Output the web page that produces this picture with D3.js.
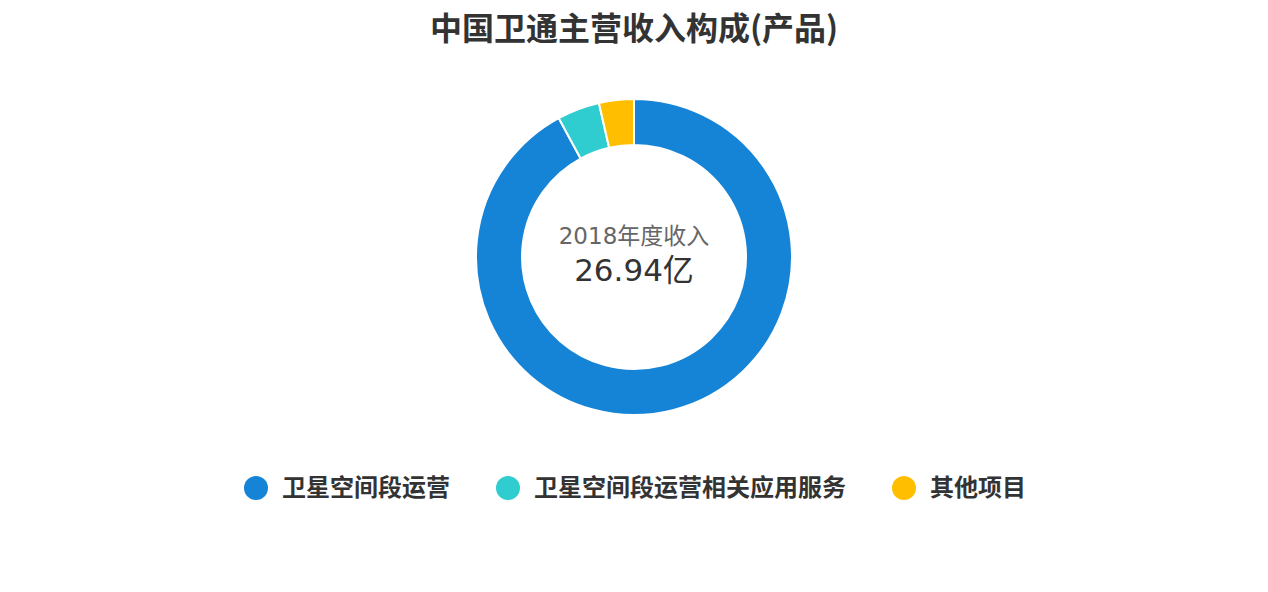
<!DOCTYPE html>
<html>
<head>
<meta charset="utf-8">
<script src="https://cdn.jsdelivr.net/npm/d3@7"></script>
<style>
body { margin: 0; background: #fff; font-family: "Noto Sans CJK SC", "Noto Sans", sans-serif; }
</style>
</head>
<body>
<script>
var categories = ['卫星空间段运营', '卫星空间段运营相关应用服务', '其他项目'];
var values = [24.81, 1.17, 0.96];
var colors = ['#1583d6', '#2fcdd0', '#ffbf00'];
var centerLabel = '2018年度收入';
var centerValue = '26.94亿';

var width = 1268, height = 592;
var cx = 634, cy = 257;

var svg = d3.select('body').append('svg')
    .attr('width', width)
    .attr('height', height);

svg.append('text')
    .attr('x', cx).attr('y', 40)
    .attr('text-anchor', 'middle')
    .style('font-size', '32px')
    .style('font-weight', 'bold')
    .style('fill', '#333')
    .text('中国卫通主营收入构成(产品)');

var pie = d3.pie().sort(null)(values);
var arc = d3.arc().innerRadius(112).outerRadius(158);

var g = svg.append('g').attr('transform', 'translate(' + cx + ',' + cy + ')');
g.selectAll('path')
    .data(pie)
    .enter()
    .append('path')
    .attr('d', arc)
    .attr('fill', function(d, i) { return colors[i]; })
    .attr('stroke', '#fff')
    .attr('stroke-width', 2);

// center text, digits a bit wider like the original
g.append('text')
    .attr('y', -13)
    .attr('text-anchor', 'middle')
    .style('font-family', '"DejaVu Sans", "Noto Sans CJK SC", sans-serif')
    .style('font-size', '23px')
    .style('fill', '#666')
    .text(centerLabel);
g.append('text')
    .attr('y', 24)
    .attr('text-anchor', 'middle')
    .style('font-family', '"DejaVu Sans", "Noto Sans CJK SC", sans-serif')
    .style('font-size', '31px')
    .style('fill', '#333')
    .text(centerValue);

// legend
var legendX = [256, 508, 904];
var lg = svg.selectAll('.legend')
    .data(categories)
    .enter()
    .append('g')
    .attr('class', 'legend')
    .attr('transform', function(d, i) { return 'translate(' + legendX[i] + ',488)'; });
lg.append('circle')
    .attr('r', 12)
    .attr('fill', function(d, i) { return colors[i]; });
lg.append('text')
    .attr('x', 26)
    .attr('y', 8)
    .style('font-size', '24px')
    .style('font-weight', 'bold')
    .style('fill', '#333')
    .text(function(d) { return d; });
</script>
</body>
</html>
